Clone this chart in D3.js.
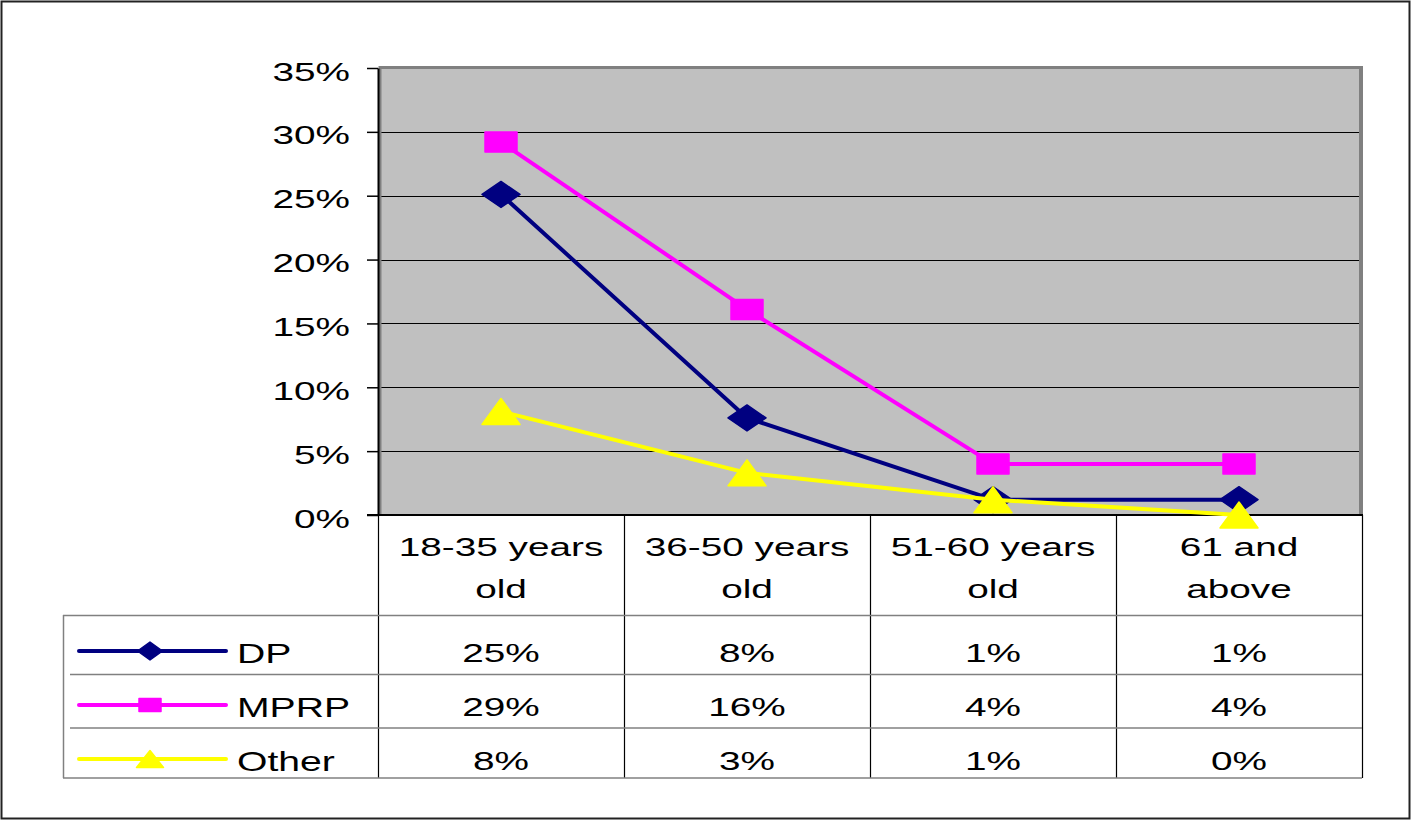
<!DOCTYPE html>
<html><head><meta charset="utf-8">
<script src="https://cdn.jsdelivr.net/npm/d3@7"></script>
<style>body{margin:0;background:#fff}svg{display:block}text{font-family:"Liberation Sans",Arial,sans-serif;fill:#000}</style>
</head><body><svg id="c" width="1412" height="821"></svg>
<script>
const categories = ["18-35 years old","36-50 years old","51-60 years old","61 and above"];
const categoryLines = [["18-35 years","old"],["36-50 years","old"],["51-60 years","old"],["61 and","above"]];
const seriesNames = ["DP","MPRP","Other"];
const dpValues = [0.251, 0.076, 0.012, 0.012];
const mprpValues = [0.292, 0.161, 0.040, 0.040];
const otherValues = [0.081, 0.033, 0.012, 0.0];
const yTicks = [0, 0.05, 0.10, 0.15, 0.20, 0.25, 0.30, 0.35];

const seriesColors = ["#000080", "#FF00FF", "#FFFF00"];
const seriesShapes = ["diamond", "square", "triangle"];
const seriesValues = [dpValues, mprpValues, otherValues];

const SX = 1.55; // horizontal stretch of text
const svg = d3.select("#c");
const L = 378, R = 1362, T = 68, B = 515;
const x = d3.scaleBand().domain(categories).range([L, R]);
const y = d3.scaleLinear().domain([0, 0.35]).range([B, T]);
const fmt = d3.format(".0%");

function stext(g, tx, ty, str, size, anchor, sx) {
  return g.append("text").attr("transform", `translate(${tx},${ty}) scale(${sx || SX},1)`)
    .attr("text-anchor", anchor || "middle").attr("font-size", size).text(str);
}
function markerPath(shape, w, h) {
  const a = w / 2, b = h / 2;
  if (shape === "diamond") return `M${-a},0L0,${-b}L${a},0L0,${b}Z`;
  if (shape === "square") return `M${-a},${-b}L${a},${-b}L${a},${b}L${-a},${b}Z`;
  return `M0,${-b}L${a},${b}L${-a},${b}Z`;
}
const markerSizes = {diamond:[38,26], square:[32,20], triangle:[38,26]};
const legendSizes = {diamond:[25,18], square:[22,13], triangle:[27,17]};

// outer border
svg.append("rect").attr("x",1.5).attr("y",1.5).attr("width",1408).attr("height",817)
  .attr("fill","none").attr("stroke","#222").attr("stroke-width",2);

// plot area
svg.append("rect").attr("x",L).attr("y",T).attr("width",R-L).attr("height",B-T)
  .attr("fill","#C0C0C0");
// gridlines
svg.append("g").selectAll("line").data(yTicks.filter(d => d > 0 && d < 0.35)).join("line")
  .attr("x1",L).attr("x2",R-3).attr("y1",d=>Math.round(y(d))+0.5).attr("y2",d=>Math.round(y(d))+0.5)
  .attr("stroke","#000").attr("stroke-width",1);
// gray border top/left
svg.append("path").attr("d",`M${L+2},${B}L${L+2},${T-0.5}L${R},${T-0.5}`)
  .attr("fill","none").attr("stroke","#808080").attr("stroke-width",3);
// right border (thicker)
svg.append("line").attr("x1",R-1).attr("x2",R-1).attr("y1",T-2).attr("y2",B)
  .attr("stroke","#808080").attr("stroke-width",4);

// y axis
const yAxis = svg.append("g").attr("transform",`translate(${L},0)`)
  .call(d3.axisLeft(y).tickValues(yTicks).tickFormat(fmt).tickSize(11).tickSizeOuter(0));
yAxis.select(".domain").attr("stroke","#000").attr("stroke-width",2);
yAxis.selectAll(".tick line").attr("stroke","#000").attr("stroke-width",1.5);
yAxis.selectAll(".tick text").attr("x",null).attr("dy",null)
  .attr("transform",`translate(-28,12) scale(${SX},1)`)
  .attr("font-size",25).attr("font-family",'"Liberation Sans",Arial,sans-serif').attr("fill","#000");
// x axis line
svg.append("line").attr("x1",L-11).attr("x2",R+1).attr("y1",B).attr("y2",B)
  .attr("stroke","#000").attr("stroke-width",2);

// series
const line = d3.line().x((d,i)=>x(categories[i])+x.bandwidth()/2).y(d=>y(d));
seriesValues.forEach((vals, s) => {
  const g = svg.append("g");
  g.append("path").attr("d", line(vals)).attr("fill","none")
    .attr("stroke", seriesColors[s]).attr("stroke-width",4).attr("stroke-linejoin","round");
  const [w,h] = markerSizes[seriesShapes[s]];
  g.selectAll("path.m").data(vals).join("path").attr("class","m")
    .attr("transform",(d,i)=>`translate(${x(categories[i])+x.bandwidth()/2},${y(d)})`)
    .attr("d", markerPath(seriesShapes[s], w, h))
    .attr("fill", seriesColors[s]).attr("stroke", seriesColors[s]).attr("stroke-width",1.5)
    .attr("stroke-linejoin","round");
});

// data table
const tbl = svg.append("g");
const rowBaselines = [662, 716, 770];
const rowCenters = [651, 705, 759];
[L, ...categories.map(c => x(c) + x.bandwidth())].forEach(xv => {
  tbl.append("line").attr("x1",xv+0.5).attr("x2",xv+0.5).attr("y1",B).attr("y2",778)
    .attr("stroke","#000").attr("stroke-width",1.2);
});
tbl.append("line").attr("x1",63).attr("x2",R).attr("y1",615.5).attr("y2",615.5).attr("stroke","#808080").attr("stroke-width",1.5);
tbl.append("line").attr("x1",70).attr("x2",R).attr("y1",674.5).attr("y2",674.5).attr("stroke","#808080").attr("stroke-width",1.5);
tbl.append("line").attr("x1",70).attr("x2",R).attr("y1",728).attr("y2",728).attr("stroke","#808080").attr("stroke-width",1.5);
tbl.append("line").attr("x1",63).attr("x2",R).attr("y1",778).attr("y2",778).attr("stroke","#808080").attr("stroke-width",1.5);
tbl.append("line").attr("x1",63.5).attr("x2",63.5).attr("y1",615).attr("y2",778).attr("stroke","#808080").attr("stroke-width",1.5);

categoryLines.forEach((lines, i) => {
  const cx = x(categories[i]) + x.bandwidth()/2;
  stext(tbl, cx, 556, lines[0], 25);
  stext(tbl, cx, 598, lines[1], 25);
});
seriesValues.forEach((vals, s) => {
  vals.forEach((v, i) => {
    stext(tbl, x(categories[i]) + x.bandwidth()/2, rowBaselines[s], fmt(v), 25);
  });
  tbl.append("line").attr("x1",79).attr("x2",226).attr("y1",rowCenters[s]).attr("y2",rowCenters[s])
    .attr("stroke",seriesColors[s]).attr("stroke-width",4).attr("stroke-linecap","round");
  const [w,h] = legendSizes[seriesShapes[s]];
  tbl.append("path").attr("transform",`translate(150,${rowCenters[s]})`)
    .attr("d", markerPath(seriesShapes[s], w, h)).attr("fill",seriesColors[s])
    .attr("stroke",seriesColors[s]).attr("stroke-width",1.5).attr("stroke-linejoin","round");
  stext(tbl, 237, rowBaselines[s] + 1, seriesNames[s], 27, "start", 1.45);
});
</script></body></html>
